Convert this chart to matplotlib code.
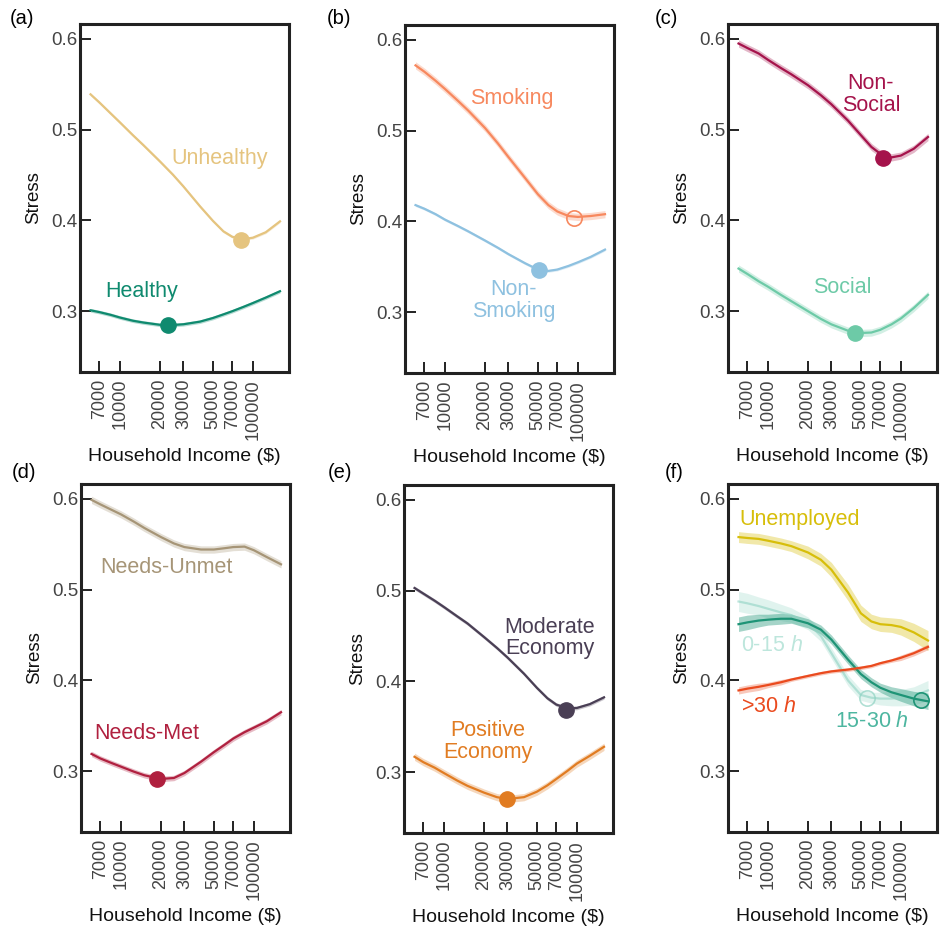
import matplotlib.pyplot as plt
from matplotlib.ticker import NullLocator
import numpy as np

# fonts: Arial-like text, italic "h" through mathtext
plt.rcParams['font.family'] = ['Liberation Sans', 'DejaVu Sans']
plt.rcParams['mathtext.fontset'] = 'custom'
plt.rcParams['mathtext.rm'] = 'Liberation Sans'
plt.rcParams['mathtext.it'] = 'Liberation Sans:italic'

# household income grid ($)
income = [6000, 7000, 8500, 10000, 12500, 15000, 20000, 25000, 30000, 40000,
          50000, 60000, 70000, 85000, 100000, 125000, 160000]

# (a) health
unhealthy = [0.539, 0.530, 0.518, 0.508, 0.494, 0.483, 0.465, 0.4505, 0.4375, 0.4156,
             0.3996, 0.388, 0.382, 0.3795, 0.381, 0.387, 0.399]
healthy = [0.301, 0.299, 0.296, 0.293, 0.2895, 0.2875, 0.285, 0.2848, 0.2856, 0.2885,
           0.2925, 0.2965, 0.300, 0.3048, 0.309, 0.315, 0.322]
unhealthy_min = (80700, 0.379)
healthy_min = (22800, 0.285)

# (b) smoking
smoking = [0.572, 0.565, 0.555, 0.546, 0.533, 0.522, 0.503, 0.486, 0.471, 0.448,
           0.430, 0.418, 0.411, 0.406, 0.405, 0.406, 0.408]
non_smoking = [0.418, 0.414, 0.408, 0.402, 0.395, 0.389, 0.379, 0.371, 0.364, 0.354,
               0.347, 0.3455, 0.347, 0.351, 0.355, 0.361, 0.369]
smoking_min = (92700, 0.404)
non_smoking_min = (51400, 0.346)

# (c) social
non_social = [0.595, 0.590, 0.584, 0.577, 0.568, 0.561, 0.549, 0.538, 0.528, 0.510,
              0.494, 0.481, 0.4735, 0.4695, 0.4715, 0.479, 0.492]
social = [0.347, 0.341, 0.333, 0.327, 0.318, 0.311, 0.300, 0.2915, 0.2855, 0.2785,
          0.276, 0.2765, 0.2795, 0.2855, 0.292, 0.3035, 0.318]
non_social_min = (72800, 0.469)
social_min = (45100, 0.276)

# (d) needs
needs_unmet = [0.599, 0.594, 0.588, 0.583, 0.575, 0.568, 0.558, 0.551, 0.547, 0.5443,
               0.5443, 0.5457, 0.547, 0.5475, 0.5435, 0.536, 0.528]
needs_met = [0.319, 0.314, 0.309, 0.305, 0.2995, 0.2955, 0.2915, 0.2925, 0.298, 0.3105,
             0.321, 0.329, 0.336, 0.343, 0.348, 0.355, 0.365]
needs_met_min = (18600, 0.291)

# (e) economy
moderate_eco = [0.503, 0.4968, 0.489, 0.482, 0.472, 0.464, 0.449, 0.437, 0.4265, 0.4085,
                0.393, 0.3815, 0.3745, 0.3705, 0.3708, 0.375, 0.3825]
positive_eco = [0.317, 0.311, 0.305, 0.299, 0.291, 0.285, 0.2775, 0.2725, 0.2705, 0.2725,
                0.2785, 0.2855, 0.2925, 0.3015, 0.3095, 0.318, 0.328]
moderate_eco_min = (82200, 0.369)
positive_eco_min = (30000, 0.270)

# (f) employment / working hours
unemployed = [0.558, 0.557, 0.556, 0.554, 0.551, 0.548, 0.541, 0.533, 0.522, 0.497,
              0.474, 0.465, 0.462, 0.461, 0.459, 0.453, 0.444]
hours_0_15 = [0.487, 0.485, 0.482, 0.479, 0.475, 0.472, 0.463, 0.449, 0.430, 0.400,
              0.384, 0.381, 0.380, 0.380, 0.381, 0.383, 0.389]
hours_15_30 = [0.462, 0.464, 0.466, 0.467, 0.468, 0.468, 0.463, 0.456, 0.445, 0.423,
               0.407, 0.398, 0.392, 0.387, 0.384, 0.380, 0.377]
hours_30 = [0.389, 0.391, 0.393, 0.395, 0.398, 0.401, 0.405, 0.408, 0.410, 0.412,
            0.414, 0.416, 0.419, 0.422, 0.425, 0.430, 0.437]
unemployed_ci = [0.006, 0.006, 0.006, 0.006, 0.006, 0.006, 0.007, 0.007, 0.008, 0.009,
                 0.009, 0.008, 0.008, 0.008, 0.009, 0.010, 0.011]
hours_0_15_ci = [0.011, 0.011, 0.010, 0.010, 0.009, 0.008, 0.007, 0.006, 0.006, 0.006,
                 0.006, 0.006, 0.007, 0.008, 0.009, 0.010, 0.011]
hours_15_30_ci = [0.008, 0.008, 0.007, 0.006, 0.006, 0.005, 0.005, 0.005, 0.005, 0.005,
                  0.005, 0.005, 0.005, 0.006, 0.007, 0.008, 0.009]
hours_30_ci = [0.004, 0.004, 0.004, 0.003, 0.003, 0.002, 0.002, 0.002, 0.002, 0.002,
               0.002, 0.002, 0.002, 0.002, 0.003, 0.003, 0.003]
hours_0_15_min = (55300, 0.381)
hours_15_30_min = (141000, 0.379)

xticks = [7000, 10000, 20000, 30000, 50000, 70000, 100000]
yticks = [0.3, 0.4, 0.5, 0.6]

fig = plt.figure(figsize=(9.43, 9.27), dpi=100)

W, H = 943, 927
# axes boxes in pixels (left, top)
boxes = [(80, 24), (405, 25), (728, 24), (81, 484), (404, 485), (728, 484)]
panel_tags = ['(a)', '(b)', '(c)', '(d)', '(e)', '(f)']
tag_pos = [(10, 18), (327, 18), (655, 18), (12, 472), (328, 472), (665, 472)]
aw, ah = 209, 348

axes = []
for (l, t), tag, (tx, ty) in zip(boxes, panel_tags, tag_pos):
    ax = fig.add_axes([l / W, 1 - (t + ah) / H, aw / W, ah / H])
    ax.set_xscale('log')
    ax.set_xlim(5000, 187000)
    ax.set_ylim(0.233, 0.6165)
    ax.set_xticks(xticks)
    ax.set_xticklabels([str(v) for v in xticks], rotation=90)
    ax.xaxis.set_minor_locator(NullLocator())
    ax.set_yticks(yticks)
    ax.set_yticklabels([str(v) for v in yticks])
    ax.tick_params(axis='x', direction='in', length=8, width=1.4, pad=5,
                   labelsize=13, labelcolor='#444444', color='#222222')
    ax.tick_params(axis='y', direction='in', length=8, width=1.4, pad=2,
                   labelsize=13.5, labelcolor='#444444', color='#222222')
    for s in ax.spines.values():
        s.set_linewidth(2.2)
        s.set_color('#222222')
    ax.set_ylabel('Stress', fontsize=13.5, color='#111111')
    ax.yaxis.set_label_coords(-38 / aw, 0.5)
    ax.set_xlabel('Household Income ($)', fontsize=14, color='#111111')
    ax.xaxis.set_label_coords(0.5, -76 / ah)
    fig.text(tx / W, 1 - ty / H, tag, fontsize=14.5, ha='left', va='center')
    axes.append(ax)


def curve(ax, y, color, ci=0.002, alpha=1.0, lw=1.6, band_alpha=0.3):
    y = np.array(y)
    ax.fill_between(income, y - ci, y + ci, color=color, alpha=band_alpha * alpha, lw=0)
    ax.plot(income, y, color=color, lw=lw, alpha=alpha, solid_joinstyle='round')


def dot(ax, pt, color, hollow=False, alpha=1.0):
    if hollow:
        ax.plot(pt[0], pt[1], 'o', ms=11, mfc='none', mec=color, mew=1.2, alpha=alpha)
    else:
        ax.plot(pt[0], pt[1], 'o', ms=11, color=color, alpha=alpha)


fs = 15.5

# (a)
ax = axes[0]
c_unh, c_h = '#E5C47F', '#0F8A6F'
curve(ax, unhealthy, c_unh, 0.0015)
curve(ax, healthy, c_h, 0.002)
dot(ax, unhealthy_min, c_unh)
dot(ax, healthy_min, c_h)
ax.text(56500, 0.468, 'Unhealthy', color=c_unh, fontsize=fs, ha='center', va='center')
ax.text(14550, 0.322, 'Healthy', color=c_h, fontsize=fs, ha='center', va='center')

# (b)
ax = axes[1]
c_s, c_ns = '#F7885E', '#8EC1E0'
curve(ax, smoking, c_s, 0.004)
curve(ax, non_smoking, c_ns, 0.0015)
dot(ax, smoking_min, c_s, hollow=True)
dot(ax, non_smoking_min, c_ns)
ax.text(31800, 0.535, 'Smoking', color=c_s, fontsize=fs, ha='center', va='center')
ax.text(32900, 0.313, 'Non-\nSmoking', color=c_ns, fontsize=fs, ha='center', va='center',
        linespacing=1.05)

# (c)
ax = axes[2]
c_nso, c_so = '#A5134B', '#6DCAA7'
curve(ax, non_social, c_nso, 0.004)
curve(ax, social, c_so, 0.004)
dot(ax, non_social_min, c_nso)
dot(ax, social_min, c_so)
ax.text(59400, 0.539, 'Non-\nSocial', color=c_nso, fontsize=fs, ha='center', va='center',
        linespacing=1.05)
ax.text(35950, 0.326, 'Social', color=c_so, fontsize=fs, ha='center', va='center')

# (d)
ax = axes[3]
c_nu, c_nm = '#A69577', '#B0203F'
curve(ax, needs_unmet, c_nu, 0.004)
curve(ax, needs_met, c_nm, 0.003)
dot(ax, needs_met_min, c_nm)
ax.text(22100, 0.524, 'Needs-Unmet', color=c_nu, fontsize=fs, ha='center', va='center')
ax.text(15700, 0.341, 'Needs-Met', color=c_nm, fontsize=fs, ha='center', va='center')

# (e)
ax = axes[4]
c_me, c_pe = '#4A3F55', '#E17C22'
curve(ax, moderate_eco, c_me, 0.002)
curve(ax, positive_eco, c_pe, 0.004)
dot(ax, moderate_eco_min, c_me)
dot(ax, positive_eco_min, c_pe)
ax.text(62400, 0.448, 'Moderate\nEconomy', color=c_me, fontsize=fs, ha='center', va='center',
        linespacing=1.05)
ax.text(21500, 0.334, 'Positive\nEconomy', color=c_pe, fontsize=fs, ha='center', va='center',
        linespacing=1.05)

# (f)
ax = axes[5]
c_un, c_015, c_1530, c_30 = '#D7BE0A', '#8FD3C3', '#1E9476', '#EA4A1E'
curve(ax, hours_0_15, c_015, hours_0_15_ci, alpha=0.6, band_alpha=0.45)
curve(ax, unemployed, c_un, unemployed_ci, band_alpha=0.35)
curve(ax, hours_15_30, c_1530, hours_15_30_ci, band_alpha=0.4)
curve(ax, hours_30, c_30, hours_30_ci, band_alpha=0.3)
dot(ax, hours_0_15_min, c_015, hollow=True, alpha=0.7)
dot(ax, hours_15_30_min, c_1530, hollow=True)
ax.text(6100, 0.577, 'Unemployed', color=c_un, fontsize=fs, ha='left', va='center')
ax.text(6300, 0.439, '0-15 $h$', color='#BDE6DC', fontsize=fs, ha='left', va='center')
ax.text(6300, 0.371, '>30 $h$', color=c_30, fontsize=fs, ha='left', va='center')
ax.text(32000, 0.355, '15-30 $h$', color='#4DB6A0', fontsize=fs, ha='left', va='center')

plt.savefig('out.png', dpi=100)
